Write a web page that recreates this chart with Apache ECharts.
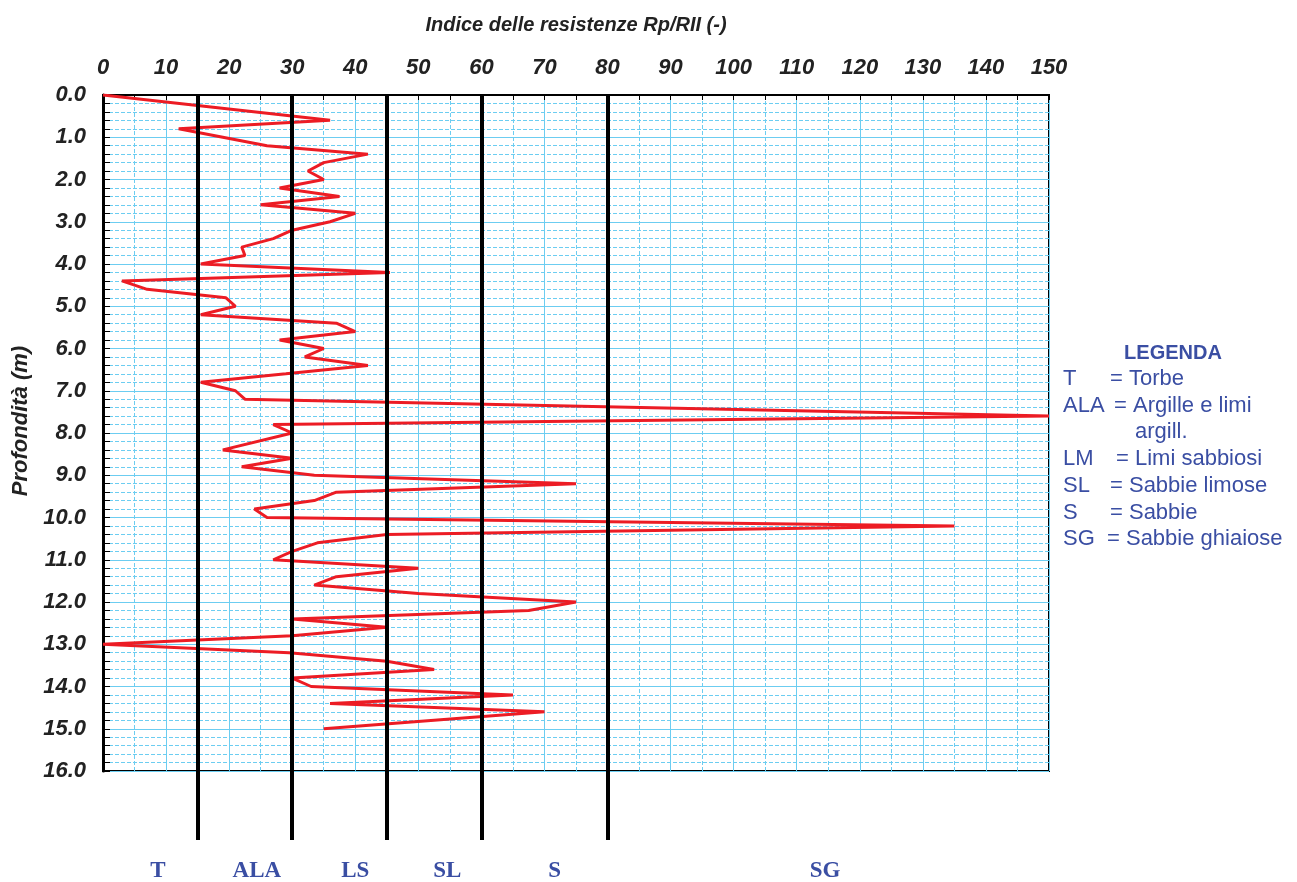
<!DOCTYPE html>
<html>
<head>
<meta charset="utf-8">
<script src="https://cdn.jsdelivr.net/npm/echarts@6/dist/echarts.min.js"></script>
<style>
  html, body { margin: 0; padding: 0; background: #fff; }
  #chart { width: 1297px; height: 882px; }
</style>
</head>
<body>
<div id="chart"></div>
<script>
// CPT profile: friction ratio index Rp/Rl against depth
const depth = [0.0, 0.6, 0.8, 1.0, 1.2, 1.4, 1.6, 1.8, 2.0, 2.2, 2.4, 2.6, 2.8, 3.0, 3.2, 3.4, 3.6, 3.8, 4.0, 4.2,
  4.4, 4.6, 4.8, 5.0, 5.2, 5.4, 5.6, 5.8, 6.0, 6.2, 6.4, 6.6, 6.8, 7.0, 7.2, 7.6, 7.8, 8.0, 8.4, 8.6,
  8.8, 9.0, 9.2, 9.4, 9.6, 9.8, 10.0, 10.2, 10.4, 10.6, 10.8, 11.0, 11.2, 11.4, 11.6, 11.8, 12.0, 12.2, 12.4, 12.6,
  12.8, 13.0, 13.2, 13.4, 13.6, 13.8, 14.0, 14.2, 14.4, 14.6, 15.0];
const ratio = [0, 36, 12, 19, 26, 42, 35, 32.5, 35, 28, 37.5, 25, 40, 36, 30, 27, 22, 22.5, 15.5, 45.5,
  3, 7, 19.5, 21, 15.5, 37, 40, 28, 35, 32, 42, 29, 15.5, 21, 22.5, 150, 27, 30, 19, 30,
  22, 33.5, 75, 37, 33.5, 24, 26, 135, 45, 34, 30, 27, 50, 37, 33.5, 50, 75, 67.5, 30, 45,
  30, 0, 29.5, 45, 52.5, 30, 33, 65, 36, 70, 35];

// soil class boundaries on the ratio scale and their codes
const classLimits = [15, 30, 45, 60, 80];
const classCodes = ['T', 'ALA', 'LS', 'SL', 'S', 'SG'];
const classLabelAt = [8.7, 24.4, 40, 54.6, 71.6, 114.5];

// legend block
const legendCodes = ['T', 'ALA', 'LM', 'SL', 'S', 'SG'];
const legendNames = ['Torbe', 'Argille e limi\nargill.', 'Limi sabbiosi', 'Sabbie limose', 'Sabbie', 'Sabbie ghiaiose'];

const SANS = '"Liberation Sans", Arial, sans-serif';
const SERIF = '"Liberation Serif", "Times New Roman", serif';
const BLUE = '#3a4ea3';
const GRID_BLUE = '#6ccdf1';

const chart = echarts.init(document.getElementById('chart'), null, { renderer: 'canvas' });

const profile = depth.map((d, i) => [ratio[i], d]);

// legend text elements
const legendFont = '22px ' + SANS;
const legendEls = [{
  type: 'text', x: 1173, y: 353,
  style: { text: 'LEGENDA', font: 'bold 20px ' + SANS, fill: BLUE, textAlign: 'center', textVerticalAlign: 'middle' }
}];
const descX = [1110, 1114, 1116, 1110, 1110, 1107];
let rowY = 379;
legendCodes.forEach((code, i) => {
  legendEls.push({
    type: 'text', x: 1063, y: rowY,
    style: { text: code, font: legendFont, fill: BLUE, textVerticalAlign: 'middle' }
  });
  const parts = legendNames[i].split('\n');
  legendEls.push({
    type: 'text', x: descX[i], y: rowY,
    style: { text: '= ' + parts[0], font: legendFont, fill: BLUE, textVerticalAlign: 'middle' }
  });
  rowY += 26.7;
  for (let k = 1; k < parts.length; k++) {
    legendEls.push({
      type: 'text', x: 1135, y: rowY,
      style: { text: parts[k], font: legendFont, fill: BLUE, textVerticalAlign: 'middle' }
    });
    rowY += 26.7;
  }
});

const limitLines = {
  silent: true,
  symbol: ['none', 'none'],
  label: { show: false },
  lineStyle: { color: '#000', width: 4, type: 'solid', opacity: 1 },
  emphasis: { disabled: true },
  animation: false,
  data: classLimits.map(v => ({ xAxis: v }))
};

chart.setOption({
  animation: false,
  backgroundColor: '#fff',
  grid: [
    { left: 103, right: 248, top: 95, bottom: 111, show: true, backgroundColor: '#fff', borderColor: '#000', borderWidth: 2 },
    { left: 103, right: 248, top: 771, bottom: 42 },
    { left: 103, right: 248, top: 860, bottom: 0 }
  ],
  xAxis: [
    {
      gridIndex: 0, type: 'value', position: 'top', min: 0, max: 150, interval: 10,
      name: 'Indice delle resistenze Rp/RII (-)', nameLocation: 'middle', nameGap: 60,
      nameTextStyle: { fontFamily: SANS, fontWeight: 'bold', fontStyle: 'italic', fontSize: 20, color: '#222' },
      axisLine: { show: true, lineStyle: { color: '#000', width: 2 } },
      axisTick: { show: true, inside: true, length: 5, lineStyle: { color: '#000', width: 1 } },
      minorTick: { show: true, splitNumber: 2, length: 5, lineStyle: { color: '#000', width: 1 } },
      axisLabel: { show: true, margin: 16, fontFamily: SANS, fontWeight: 'bold', fontStyle: 'italic', fontSize: 22, color: '#222' },
      splitLine: { show: true, lineStyle: { color: GRID_BLUE, width: 1 } },
      minorSplitLine: { show: true, lineStyle: { color: GRID_BLUE, width: 1, type: [4, 2] } }
    },
    { gridIndex: 1, type: 'value', min: 0, max: 150, show: false },
    { gridIndex: 2, type: 'value', min: 0, max: 150, show: false }
  ],
  yAxis: [
    {
      gridIndex: 0, type: 'value', inverse: true, min: 0, max: 16, interval: 1,
      name: 'Profondità (m)', nameLocation: 'middle', nameGap: 64, nameRotate: 90,
      nameTextStyle: {
        fontFamily: SANS, fontWeight: 'bold', fontStyle: 'italic', fontSize: 22, color: '#222',
        padding: [0, 0, 0, 24]
      },
      axisLine: { show: true, lineStyle: { color: '#000', width: 3 } },
      axisTick: { show: true, inside: true, length: 7, lineStyle: { color: '#000', width: 1 } },
      minorTick: { show: true, splitNumber: 5, length: 7, lineStyle: { color: '#000', width: 1 } },
      axisLabel: {
        show: true, margin: 17, fontFamily: SANS, fontWeight: 'bold', fontStyle: 'italic', fontSize: 22, color: '#222',
        formatter: v => v.toFixed(1)
      },
      splitLine: { show: true, lineStyle: { color: GRID_BLUE, width: 1 } },
      minorSplitLine: { show: true, lineStyle: { color: GRID_BLUE, width: 1, type: [4, 2] } }
    },
    { gridIndex: 1, type: 'value', min: 0, max: 1, show: false },
    { gridIndex: 2, type: 'value', min: 0, max: 1, show: false }
  ],
  series: [
    {
      name: 'Rp/Rl', type: 'line', xAxisIndex: 0, yAxisIndex: 0,
      data: profile, showSymbol: false, symbol: 'none',
      lineStyle: { color: '#ec1c24', width: 3 },
      z: 3,
      markLine: limitLines
    },
    {
      name: 'limiti', type: 'scatter', xAxisIndex: 1, yAxisIndex: 1,
      data: classLimits.map(v => [v, 0]), symbolSize: 0, silent: true,
      markLine: limitLines
    },
    {
      name: 'classi', type: 'scatter', xAxisIndex: 2, yAxisIndex: 2,
      data: classCodes.map((c, i) => ({ value: [classLabelAt[i], 0.5], name: c })),
      symbolSize: 0, silent: true,
      itemStyle: { opacity: 1 },
      label: {
        show: true, position: 'inside', formatter: p => p.name, opacity: 1,
        fontFamily: SERIF, fontWeight: 'bold', fontSize: 23, color: BLUE
      }
    }
  ],
  graphic: legendEls
});
</script>
</body>
</html>
